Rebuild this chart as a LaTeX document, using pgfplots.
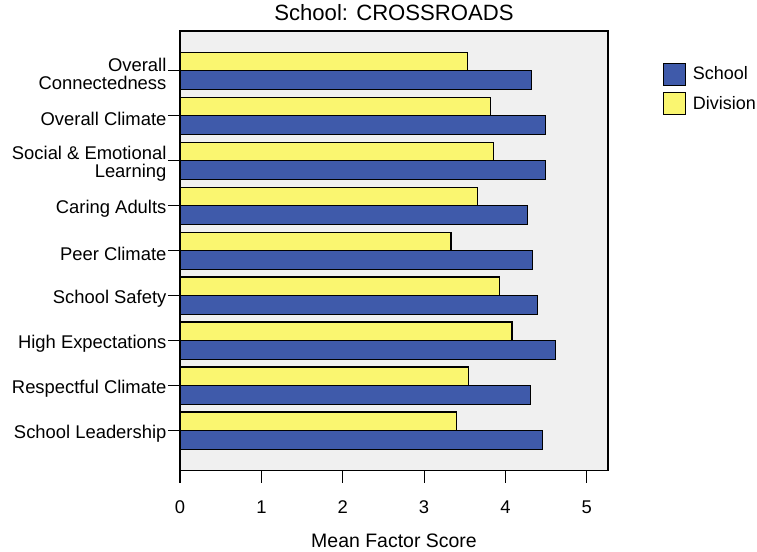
\documentclass[border=0pt]{standalone}
\usepackage{pgfplots}
\pgfplotsset{compat=1.18}
\usepackage{fontspec}
\setmainfont{Liberation Sans}
\definecolor{sblue}{RGB}{63,90,170}
\definecolor{dyellow}{RGB}{250,246,112}
\definecolor{bg}{RGB}{240,240,240}
\begin{document}
\begin{tikzpicture}
\useasboundingbox (0,0) rectangle (567.75pt,414pt);
\begin{axis}[
  at={(135pt,61pt)}, anchor=south west,
  scale only axis, width=321pt, height=329.8pt,
  xbar=0pt, bar width=14pt,
  xmin=0, xmax=5.26, ymin=0.111, ymax=9.889,
  axis background/.style={fill=bg},
  axis line style={line width=1pt},
  xtick={0,1,2,3,4,5}, ytick={1,2,3,4,5,6,7,8,9},
  yticklabels={School Leadership, Respectful Climate, High Expectations, School Safety, Peer Climate, Caring Adults, {Social \& Emotional\\Learning}, Overall Climate, {Overall\\Connectedness}},
  tick align=outside, xtick pos=bottom, ytick pos=left,
  major tick length=9pt,
  tick style={black, line width=0.8pt},
  /pgf/number format/assume math mode=true,
  ticklabel style={font=\fontsize{13.8}{13.5}\selectfont},
  yticklabel style={align=right, anchor=east, inner sep=1pt, yshift=-2pt},
  xticklabel style={yshift=-10pt},
  xlabel={Mean Factor Score},
  xlabel style={font=\fontsize{14.6}{16}\selectfont, at={(axis description cs:0.5,0)}, anchor=center, yshift=-52.7pt},
  title={School: CROSSROADS},
  title style={font=\fontsize{16.6}{19}\selectfont, at={(axis description cs:0.5,1)}, anchor=base, yshift=1.5pt},
  legend style={at={(axis description cs:1,1)}, anchor=north west, xshift=38pt, yshift=-21.5pt, draw=none, fill=none, font=\fontsize{13.5}{16}\selectfont, row sep=4.5pt, column sep=3pt},
  legend cell align=left,
]
\addplot[fill=sblue, draw=black, line width=0.9pt,
  legend image code/.code={\draw[fill=sblue,draw=black,line width=0.9pt] (0pt,-8pt) rectangle (16.5pt,8.5pt);}]
  coordinates {(4.45,1) (4.31,2) (4.61,3) (4.39,4) (4.33,5) (4.27,6) (4.49,7) (4.49,8) (4.32,9)};
\addplot[fill=dyellow, draw=black, line width=0.9pt,
  legend image code/.code={\draw[fill=dyellow,draw=black,line width=0.9pt] (0pt,-8pt) rectangle (16.5pt,8.5pt);}]
  coordinates {(3.40,1) (3.55,2) (4.08,3) (3.93,4) (3.33,5) (3.66,6) (3.85,7) (3.82,8) (3.53,9)};
\legend{School, Division}
\end{axis}
\end{tikzpicture}
\end{document}
